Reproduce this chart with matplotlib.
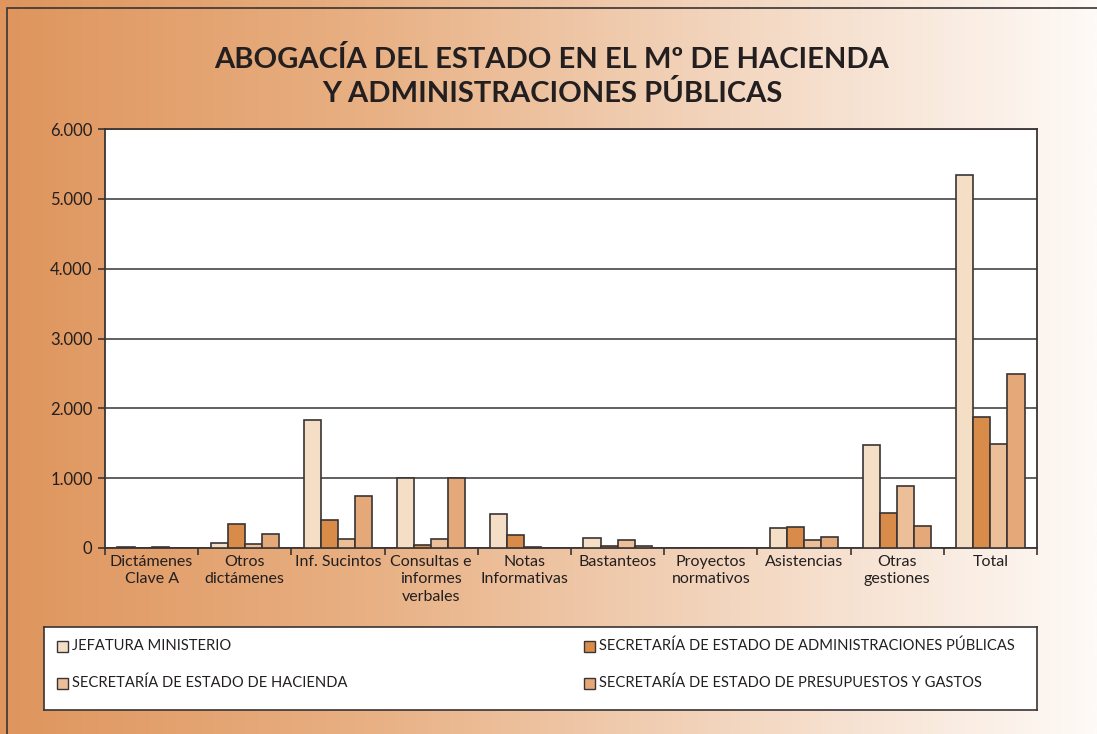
import numpy as np
import matplotlib
matplotlib.use("Agg")
import matplotlib.pyplot as plt
from matplotlib.colors import LinearSegmentedColormap
from matplotlib.patches import Rectangle

plt.rcParams['font.family'] = ['Lato', 'DejaVu Sans']

# data
categories = ["Dictámenes\nClave A", "Otros\ndictámenes", "Inf. Sucintos",
              "Consultas e\ninformes\nverbales", "Notas\nInformativas", "Bastanteos",
              "Proyectos\nnormativos", "Asistencias", "Otras\ngestiones", "Total"]
series_names = ["JEFATURA MINISTERIO",
                "SECRETARÍA DE ESTADO DE ADMINISTRACIONES PÚBLICAS",
                "SECRETARÍA DE ESTADO DE HACIENDA",
                "SECRETARÍA DE ESTADO DE PRESUPUESTOS Y GASTOS"]
jefatura = [15, 65, 1838, 1000, 480, 150, 5, 280, 1471, 5344]
seap = [5, 340, 400, 50, 190, 25, 5, 296, 506, 1877]
seh = [8, 57, 123, 125, 8, 110, 5, 115, 884, 1490]
sepg = [5, 195, 740, 1000, 0, 25, 5, 162, 315, 2493]
yticks = [0, 1000, 2000, 3000, 4000, 5000, 6000]
ytick_labels = ["0", "1.000", "2.000", "3.000", "4.000", "5.000", "6.000"]

colors = ["#F5DEC6", "#D98C4A", "#EDBF98", "#E5A979"]
edge = "#3a3434"

fig = plt.figure(figsize=(10.97, 7.34), dpi=100)

# gradient background
bg = fig.add_axes([0, 0, 1, 1], zorder=-10)
cmap = LinearSegmentedColormap.from_list("bg", ["#DF955D", "#E8B083", "#F3D6BF", "#FEFAF7"])
grad = np.linspace(0, 1, 512).reshape(1, -1)
bg.imshow(grad, aspect="auto", cmap=cmap, extent=[0, 1, 0, 1])
bg.set_xlim(0, 1)
bg.set_ylim(0, 1)
bg.axis("off")
# frame
bg.add_patch(Rectangle((7 / 1097, -0.01), 1.0, 1 - 8 / 734 + 0.01, fill=False,
                       edgecolor="#3a3434", lw=1.2))

# title
fig.text(552 / 1097, 1 - 60 / 734, "ABOGACÍA DEL ESTADO EN EL Mº DE HACIENDA",
         ha="center", va="center", fontsize=21, fontweight="bold", color="#231f20")
fig.text(552 / 1097, 1 - 93 / 734, "Y ADMINISTRACIONES PÚBLICAS",
         ha="center", va="center", fontsize=21, fontweight="bold", color="#231f20")

ax = fig.add_axes([105 / 1097, 1 - 548 / 734, 932 / 1097, 419 / 734])
ax.set_facecolor("white")
x = np.arange(len(categories))
w = 0.183
data = [jefatura, seap, seh, sepg]
for i, vals in enumerate(data):
    ax.bar(x + (i - 1.5) * w, vals, width=w, color=colors[i], edgecolor=edge,
           linewidth=1.2, label=series_names[i], zorder=3)

ax.set_xlim(-0.5, len(categories) - 0.5)
ax.set_ylim(0, 6000)
ax.set_yticks(yticks)
ax.set_yticklabels(ytick_labels, fontsize=12, color="#231f20")
ax.yaxis.grid(True, color="#3a3434", lw=1.1, zorder=0)
ax.set_xticks(x)
ax.set_xticklabels(categories, fontsize=11.5, color="#231f20", linespacing=1.3)
ax.set_xticks(np.arange(-0.5, len(categories), 1), minor=True)
ax.tick_params(axis="x", which="major", length=0, pad=5)
ax.tick_params(axis="x", which="minor", length=5, width=1.2, color=edge)
ax.tick_params(axis="y", length=5, width=1.2, color=edge, pad=4)
for s in ax.spines.values():
    s.set_color(edge)
    s.set_linewidth(1.3)

# legend box
lax = fig.add_axes([44 / 1097, 1 - 710 / 734, 993 / 1097, 83 / 734])
lax.set_xlim(0, 993)
lax.set_ylim(83, 0)
lax.set_xticks([])
lax.set_yticks([])
lax.set_facecolor("white")
for s in lax.spines.values():
    s.set_color(edge)
    s.set_linewidth(1.2)
pos = [(13, 19), (540, 19), (13, 56), (540, 56)]
for i, (px, py) in enumerate(pos):
    lax.add_patch(Rectangle((px, py - 5.5), 11, 11, facecolor=colors[i],
                            edgecolor=edge, lw=1.0))
    lax.text(px + 15, py, series_names[i], va="center", ha="left",
             fontsize=10.6, color="#231f20")

fig.savefig("out.png", dpi=100)
